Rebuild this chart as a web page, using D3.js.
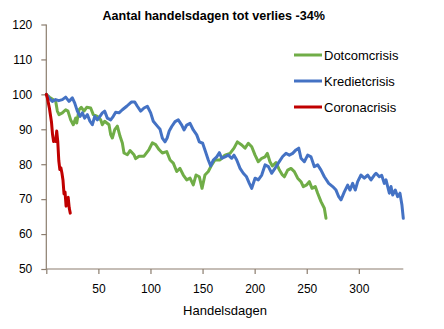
<!DOCTYPE html>
<html><head><meta charset="utf-8">
<script src="https://cdn.jsdelivr.net/npm/d3@7"></script>
<style>body{margin:0;background:#fff}svg{display:block}text{font-family:"Liberation Sans",Arial,sans-serif;fill:#000}</style>
</head><body><div id="chart"></div>
<script>
const seriesNames = ["Dotcomcrisis", "Kredietcrisis", "Coronacrisis"];
const seriesColors = ["#70AD47", "#4472C4", "#C00000"];
const yTicks = [50, 60, 70, 80, 90, 100, 110, 120];
const xTicks = [50, 100, 150, 200, 250, 300];
const title = "Aantal handelsdagen tot verlies -34%";
const xTitle = "Handelsdagen";

const dotcom = [[0,100],[3,99.2],[6,98.6],[9,98],[10.6,95.2],[12.2,94.2],[15.4,94.7],[18.6,95.6],[20.8,95.2],[23.4,92.7],[25.9,91.3],[28.2,93.2],[29.2,91.8],[31.4,95.6],[33.6,96.3],[36.2,95.2],[38.8,96.3],[42.6,96.1],[45.1,94.2],[49,93.7],[52.2,92.7],[53.8,91.3],[56,92.3],[60.2,91.3],[61.8,88.5],[63.4,87.5],[65.7,89.9],[68.2,90.9],[70.8,88],[73,86.1],[74.6,83.2],[77.8,82.7],[80.4,83.9],[84.2,82.7],[85.8,81.6],[89,82.3],[93.8,82.3],[98.6,84.2],[101.8,86.1],[105,85.6],[108.2,84.2],[111.4,83.2],[115.6,83.6],[118.8,81.2],[121.9,80.3],[125.2,77.9],[128.3,78.8],[131.5,76.9],[134.8,75.5],[138,76],[141.1,74.1],[143.7,76.9],[146.9,76.4],[149.5,73.1],[152.3,76.9],[155.5,77.9],[158.8,79.8],[161.9,81.2],[166.7,81.2],[171.5,82.6],[176.4,83.1],[180.2,84.6],[183.4,86.4],[187.6,85.5],[190.8,84.6],[193.9,86],[197.2,85],[200.4,82.6],[203.5,80.7],[206.8,81.7],[210,82.1],[212.2,83.1],[214.7,80.7],[217,79.5],[220.5,80.5],[223.5,78.5],[226.5,77],[228.5,76.4],[231.7,78.3],[234.9,78.8],[238.1,77.9],[241.3,76],[244.5,75],[246.7,73.6],[250,74.1],[252.5,75],[255.1,73.1],[258.2,73.6],[260.5,71.7],[263.7,69.3],[266.9,67.4],[268.5,64.5]];

const krediet = [[0,100],[2.5,99],[5.8,98],[9,98.5],[12,98.2],[15.4,98.5],[18.6,99.2],[21.8,98],[25,99],[27.3,97.5],[29.8,95.2],[32.4,93.7],[34.6,94.7],[36.8,93.2],[39.4,94.2],[41.9,92.3],[44.2,91.3],[46.5,93.7],[49,92.7],[51.5,93.7],[53.8,94.7],[56,95.2],[58.6,93.2],[61.8,92.7],[64.3,93.7],[66.6,94.9],[69.8,94.7],[73,95.6],[77.2,96.6],[81.6,97.8],[84.9,97.8],[87.4,96.6],[90.6,95.2],[93.8,96.1],[97,96.6],[100.2,94.7],[102.7,92.3],[106.6,90.9],[109.2,90],[111.4,87.5],[114,86.4],[116,87.5],[118,89.5],[120.4,90.8],[123.6,92.2],[126.7,92.7],[130,91.2],[132.2,89.8],[134.8,91.2],[138,91.7],[141.1,89.8],[144.4,88.4],[146.9,86.4],[150.1,86],[152.3,84.1],[155.5,81.2],[157.8,79.5],[160.3,81.2],[163.6,82.1],[166.1,83.3],[168.4,81.7],[171.5,82.1],[174.7,82.6],[178,81.7],[180.2,82.6],[182.8,81.2],[186,78.8],[189.1,77.4],[192,76.5],[194.9,74.5],[197.2,73.1],[200.4,76],[203.5,75.5],[206.8,76.9],[210,79.8],[213.2,79.3],[216.4,77.4],[219.5,78.8],[222.7,80.3],[226.9,82.2],[230.1,83.1],[233.3,82.6],[236.5,83.1],[239.7,84.1],[242.3,84.6],[244.5,81.7],[247.7,80.7],[250.9,82.6],[254.1,82.1],[257.3,79.3],[260.5,79.8],[263.7,78.3],[266.9,76.4],[271.1,74.5],[274.9,73.6],[278.1,72.6],[280.7,70.7],[282.9,69.8],[286.1,72.1],[289.3,74],[291.5,72.6],[294.1,74.5],[296.6,72.6],[298.9,75],[302.1,76.9],[305.3,76],[308.5,76.9],[311.7,75.5],[314.9,76.9],[316.5,77.4],[319.7,76.4],[322,76.8],[324.5,74.5],[326.1,75.5],[329.3,71.7],[330.9,73.6],[332.5,71.2],[335,72.6],[337.3,70.7],[339.5,71.7],[341.4,68.3],[342.7,64.5]];

const corona = [[0,100],[1,99],[2,97.5],[3,96],[4,94],[5,92],[6,88.5],[7,86.5],[8,87],[9,86.5],[10,89.5],[11,86.5],[12,81],[13,78.5],[14,79],[15,77.5],[16,75.5],[17,71.5],[18,72],[19,68],[20,70],[21,70.5],[22,67.5],[23,66]];

const W = 444, H = 329;
const mL = 46.3, mR = 403.3, mT = 24.5, mB = 269;
const axisColor = "#8B7D6E";

const svg = d3.select("#chart").append("svg").attr("width", W).attr("height", H);
const x = d3.scaleLinear().domain([0, 342.7]).range([mL, mR]);
const y = d3.scaleLinear().domain([50, 120]).range([mB, mT]);

const gy = svg.append("g").attr("transform", `translate(${mL},0)`)
  .call(d3.axisLeft(y).tickValues(yTicks).tickSize(5).tickPadding(9));
const gx = svg.append("g").attr("transform", `translate(0,${mB})`)
  .call(d3.axisBottom(x).tickValues([0].concat(xTicks)).tickSize(5).tickPadding(10)
    .tickFormat(d => d === 0 ? "" : d));
[gy, gx].forEach(g => {
  g.select(".domain").attr("stroke", axisColor).attr("stroke-width", 1.2);
  g.selectAll(".tick line").attr("stroke", axisColor).attr("stroke-width", 1.2);
  g.selectAll("text").attr("font-size", 12).attr("fill", "#000")
    .attr("font-family", '"Liberation Sans", Arial, sans-serif');
});
gx.select(".domain").attr("d", `M${mL},0H${mR}`);
gy.select(".domain").attr("d", `M0,${mT}V${mB}`);

const line = d3.line().x(d => x(d[0])).y(d => y(d[1]));
const data = [dotcom, krediet, corona];
data.forEach((s, i) => {
  svg.append("path").datum(s).attr("d", line).attr("fill", "none")
    .attr("stroke", seriesColors[i]).attr("stroke-width", 3)
    .attr("stroke-linejoin", "round").attr("stroke-linecap", "round");
});

svg.append("text").attr("x", 213.7).attr("y", 19.5).attr("text-anchor", "middle")
  .attr("font-size", 12.6).attr("font-weight", "bold").text(title);
svg.append("text").attr("x", 225).attr("y", 315).attr("text-anchor", "middle")
  .attr("font-size", 13).text(xTitle);

const lg = svg.append("g");
seriesNames.forEach((n, i) => {
  const ly = 55 + i * 26;
  lg.append("line").attr("x1", 294).attr("x2", 322).attr("y1", ly).attr("y2", ly)
    .attr("stroke", seriesColors[i]).attr("stroke-width", 3);
  lg.append("text").attr("x", 324).attr("y", ly + 4.6).attr("font-size", 13).text(n);
});
</script></body></html>
